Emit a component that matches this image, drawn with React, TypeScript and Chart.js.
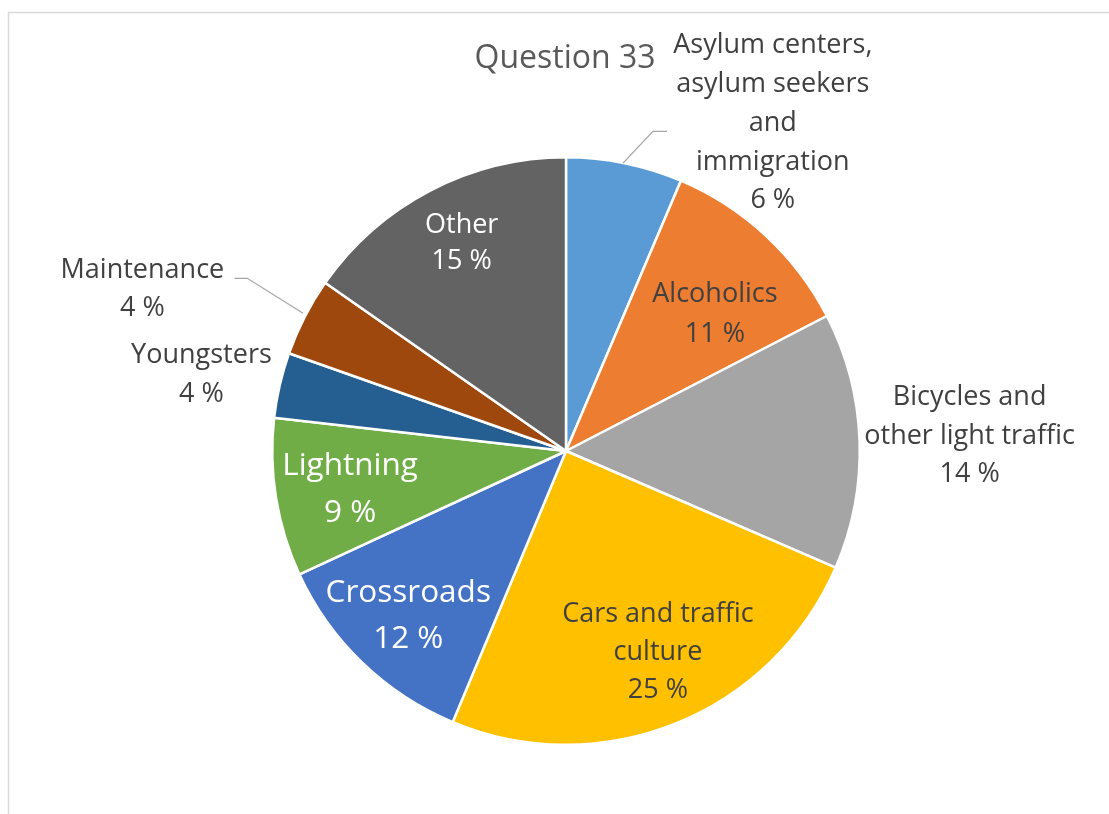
import React, { useEffect, useRef } from "react";
import { Chart, registerables } from "chart.js";

Chart.register(...registerables);

const TITLE = "Question 33";
const categoryLines: string[][] = [
  ["Asylum centers,", "asylum seekers", "and", "immigration"],
  ["Alcoholics"],
  ["Bicycles and", "other light traffic"],
  ["Cars and traffic", "culture"],
  ["Crossroads"],
  ["Lightning"],
  ["Youngsters"],
  ["Maintenance"],
  ["Other"],
];
const shares: number[] = [6.4, 11.0, 14.1, 24.8, 11.8, 8.7, 3.6, 4.3, 15.3];
const sliceColors: string[] = [
  "#5B9BD5",
  "#ED7D31",
  "#A5A5A5",
  "#FFC000",
  "#4472C4",
  "#70AD47",
  "#255E91",
  "#9E480E",
  "#636363",
];

// label styling: offset of label block (centre x, first baseline) relative to pie centre, in radius units
const SMALL = 27;
const BIG = 31.5;
const labelStyle = [
  { fx: 0.704, fy: -1.354, size: SMALL, lh: 38.8, color: "#404040" },
  { fx: 0.507, fy: -0.508, size: SMALL, lh: 40, color: "#404040" },
  { fx: 1.374, fy: -0.156, size: SMALL, lh: 38.5, color: "#404040" },
  { fx: 0.313, fy: 0.581, size: SMALL, lh: 38.2, color: "#404040" },
  { fx: -0.537, fy: 0.513, size: BIG, lh: 46.6, color: "#FFFFFF" },
  { fx: -0.735, fy: 0.082, size: BIG, lh: 46.7, color: "#FFFFFF" },
  { fx: -1.241, fy: -0.298, size: SMALL, lh: 38.4, color: "#404040" },
  { fx: -1.442, fy: -0.589, size: SMALL, lh: 38.3, color: "#404040" },
  { fx: -0.355, fy: -0.741, size: SMALL, lh: 35.5, color: "#FFFFFF" },
];
const leaderLines: { index: number; pts: [number, number][] }[] = [
  { index: 0, pts: [[0.194, -0.98], [0.296, -1.088], [0.344, -1.088]] },
  { index: 7, pts: [[-0.895, -0.469], [-1.085, -0.588], [-1.129, -0.588]] },
];

const FONT = "'Open Sans', 'Noto Sans', sans-serif";

const labelPlugin = {
  id: "pieLabels",
  beforeDraw(chart: any) {
    const ctx = chart.ctx;
    ctx.save();
    ctx.fillStyle = "#FFFFFF";
    ctx.fillRect(0, 0, chart.width, chart.height);
    ctx.strokeStyle = "#D9D9D9";
    ctx.lineWidth = 1.5;
    ctx.beginPath();
    ctx.moveTo(8.5, chart.height);
    ctx.lineTo(8.5, 12.5);
    ctx.lineTo(chart.width, 12.5);
    ctx.stroke();
    ctx.restore();
  },
  afterDatasetsDraw(chart: any) {
    const ctx = chart.ctx;
    const meta = chart.getDatasetMeta(0);
    const arc0 = meta.data[0];
    const cx = arc0.x;
    const cy = arc0.y;
    const r = arc0.outerRadius;
    ctx.save();
    // title
    ctx.font = `32px ${FONT}`;
    ctx.fillStyle = "#595959";
    ctx.textAlign = "center";
    ctx.textBaseline = "alphabetic";
    ctx.fillText(TITLE, cx - 1, cy - 1.305 * r);
    // leader lines
    ctx.strokeStyle = "#A6A6A6";
    ctx.lineWidth = 1.3;
    leaderLines.forEach((l) => {
      ctx.beginPath();
      l.pts.forEach(([fx, fy], i) => {
        const x = cx + fx * r;
        const y = cy + fy * r;
        if (i === 0) ctx.moveTo(x, y);
        else ctx.lineTo(x, y);
      });
      ctx.stroke();
    });
    // labels
    const total = shares.reduce((a, b) => a + b, 0);
    categoryLines.forEach((lines, i) => {
      const st = labelStyle[i];
      const pct = Math.round((shares[i] / total) * 100) + " %";
      const all = [...lines, pct];
      ctx.font = `${st.size}px ${FONT}`;
      ctx.fillStyle = st.color;
      const x = cx + st.fx * r;
      const y0 = cy + st.fy * r;
      all.forEach((t, k) => ctx.fillText(t, x, y0 + k * st.lh));
    });
    ctx.restore();
  },
};

export default function App() {
  const ref = useRef<HTMLCanvasElement | null>(null);
  useEffect(() => {
    if (!ref.current) return;
    const chart = new Chart(ref.current, {
      type: "pie",
      data: {
        labels: categoryLines.map((l) => l.join(" ")),
        datasets: [
          {
            data: shares,
            backgroundColor: sliceColors,
            borderColor: "#FFFFFF",
            borderWidth: 2.5,
          },
        ],
      },
      options: {
        responsive: false,
        animation: false,
        layout: { padding: { top: 156, bottom: 68, left: 271, right: 248 } },
        plugins: {
          legend: { display: false },
          tooltip: { enabled: false },
          title: { display: false },
        },
      },
      plugins: [labelPlugin],
    });
    return () => chart.destroy();
  }, []);
  return (
    <div style={{ position: "fixed", left: 0, top: 0, width: 1109, height: 814, background: "#fff" }}>
      <canvas ref={ref} width={1109} height={814} style={{ display: "block" }} />
    </div>
  );
}
